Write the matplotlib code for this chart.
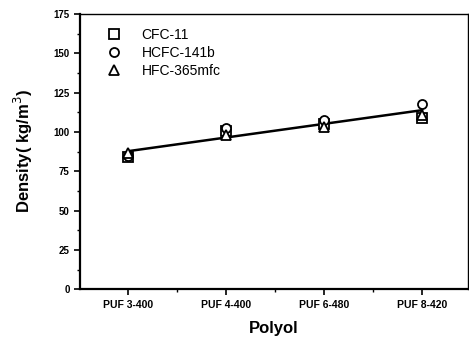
"""Densidade da espuma PUF por poliol, para três agentes de expansão."""

import matplotlib.pyplot as plt
import numpy as np
from matplotlib.ticker import MultipleLocator

plt.rcParams["font.family"] = ["Liberation Sans", "DejaVu Sans"]

POLYOLS = ["PUF 3-400", "PUF 4-400", "PUF 6-480", "PUF 8-420"]
CFC_11 = [84.0, 100.5, 105.0, 109.0]
HCFC_141B = [85.0, 102.5, 107.5, 117.5]
HFC_365MFC = [86.5, 98.0, 103.0, 111.0]
SERIES_LABELS = ["CFC-11", "HCFC-141b", "HFC-365mfc"]
MARKERS = ["s", "o", "^"]


def main() -> None:
    x = np.arange(1, len(POLYOLS) + 1)
    series = [CFC_11, HCFC_141B, HFC_365MFC]

    fig = plt.figure(figsize=(4.69, 3.41), dpi=100)
    ax = fig.add_axes([0.171, 0.152, 0.827, 0.807])

    for values, label, marker in zip(series, SERIES_LABELS, MARKERS):
        ax.plot(x, values, linestyle="none", marker=marker, markersize=6.5,
                markerfacecolor="white", markeredgecolor="black",
                markeredgewidth=1.3, label=label)

    # reta ajustada a todos os pontos
    all_x = np.tile(x, len(series))
    all_y = np.concatenate(series)
    slope, intercept = np.polyfit(all_x, all_y, 1)
    ax.plot(x, slope * x + intercept, color="black", linewidth=1.8, zorder=1)

    ax.set_xlim(0.51, 4.47)
    ax.set_ylim(0, 175)
    ax.set_xticks(x)
    ax.set_xticklabels(POLYOLS, fontsize=7.5, fontweight="bold")
    ax.xaxis.set_minor_locator(MultipleLocator(1, offset=0.5))
    ax.yaxis.set_major_locator(MultipleLocator(25))
    ax.yaxis.set_minor_locator(MultipleLocator(12.5))
    ax.tick_params(axis="both", which="major", direction="out", length=4, width=1.2)
    ax.tick_params(axis="both", which="minor", direction="out", length=2.5, width=1)
    ax.tick_params(axis="y", labelsize=7)
    for lab in ax.get_yticklabels():
        lab.set_fontweight("bold")
    ax.tick_params(top=False, right=False)

    for side in ["left", "bottom"]:
        ax.spines[side].set_linewidth(1.6)
    for side in ["top", "right"]:
        ax.spines[side].set_linewidth(1.0)

    ax.set_xlabel("Polyol", fontsize=12, fontweight="bold", labelpad=8)
    ax.set_ylabel("Density( kg/m$^3$)", fontsize=12, fontweight="bold", labelpad=13)

    ax.legend(loc="upper left", frameon=False, fontsize=10, handletextpad=1.0,
              labelspacing=0.3, borderaxespad=0.6, bbox_to_anchor=(0.015, 1.0))

    fig.savefig("out.png", dpi=100)
    plt.close(fig)


if __name__ == "__main__":
    main()
